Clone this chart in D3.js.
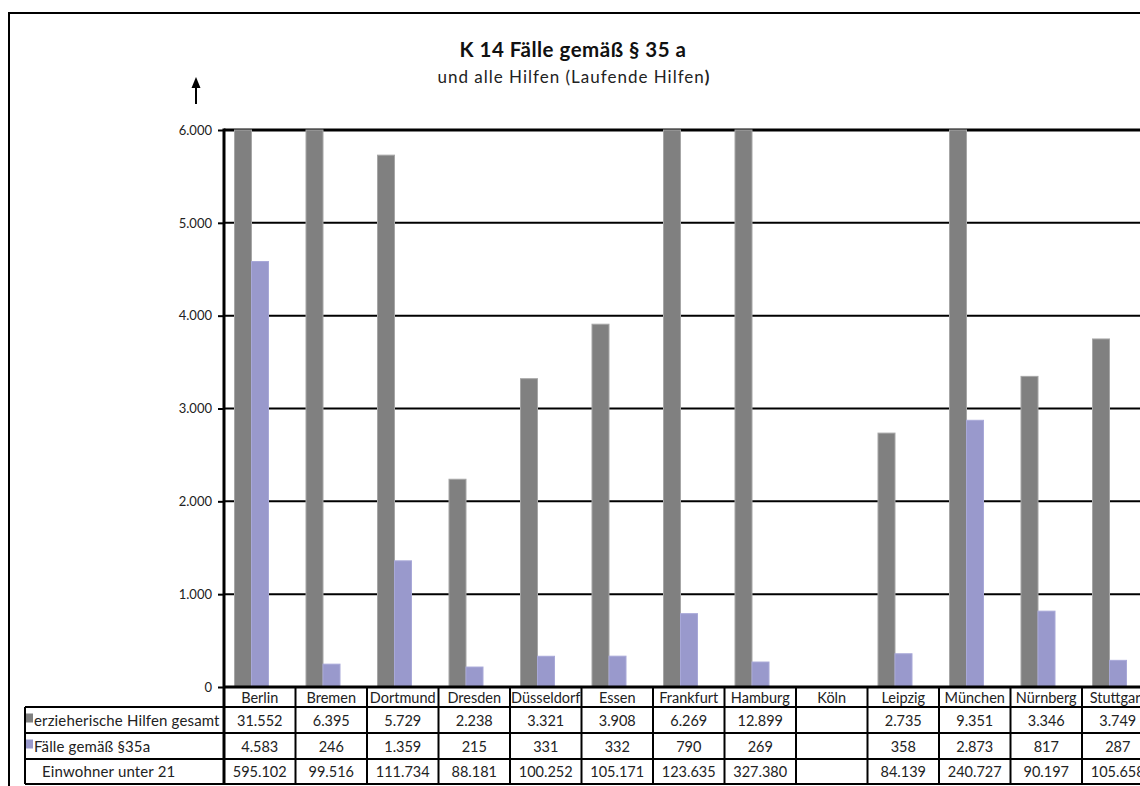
<!DOCTYPE html>
<html>
<head>
<meta charset="utf-8">
<script src="https://cdn.jsdelivr.net/npm/d3@7"></script>
<style>
  html, body { margin: 0; padding: 0; background: #fff; }
  svg { display: block; font-family: "Lato", "DejaVu Sans", sans-serif; }
</style>
</head>
<body>
<svg id="chart" width="1140" height="786"></svg>
<script>
// Cities (categories)
const cities = ["Berlin", "Bremen", "Dortmund", "Dresden", "Düsseldorf", "Essen",
  "Frankfurt", "Hamburg", "Köln", "Leipzig", "München", "Nürnberg", "Stuttgart"];

// Series values (null = no data)
const hilfenGesamt = [31552, 6395, 5729, 2238, 3321, 3908, 6269, 12899, null, 2735, 9351, 3346, 3749];
const faelle35a    = [4583, 246, 1359, 215, 331, 332, 790, 269, null, 358, 2873, 817, 287];
const einwohner    = [595102, 99516, 111734, 88181, 100252, 105171, 123635, 327380, null, 84139, 240727, 90197, 105658];

const seriesNames = ["erzieherische Hilfen gesamt", "Fälle gemäß §35a", "Einwohner unter 21"];
const seriesColors = ["#808080", "#9999cc", null];

const yTicks = [0, 1000, 2000, 3000, 4000, 5000, 6000];

const title = "K 14 Fälle gemäß § 35 a";
const subtitle = "und alle Hilfen (Laufende Hilfen";

// German number format
const de = d3.formatLocale({ decimal: ",", thousands: ".", grouping: [3], currency: ["", " €"] });
const fmt = de.format(",d");

const svg = d3.select("#chart");

// Layout
const plotLeft = 224, plotTop = 130, plotBottom = 687;
const colW = 71.5;
const rowY = [687, 707, 733, 759, 784];
const tableLeft = 25;

const x = d3.scaleBand().domain(cities).range([plotLeft, plotLeft + colW * cities.length]).padding(0);
const xs = d3.scaleBand().domain([0, 1]).range([10.5, 44.5]).padding(0);
const y = d3.scaleLinear().domain([0, 6000]).range([plotBottom, plotTop]).clamp(true);

// outer frame
svg.append("rect").attr("x", 9).attr("y", 13).attr("width", 1200).attr("height", 900)
  .attr("fill", "none").attr("stroke", "#000").attr("stroke-width", 2);

// titles
svg.append("text").attr("x", 573).attr("y", 57).attr("text-anchor", "middle")
  .attr("font-size", 20.5).attr("font-weight", "bold").attr("letter-spacing", 0.5)
  .attr("fill", "#111").text(title);
const sub = svg.append("text").attr("x", 574).attr("y", 83).attr("text-anchor", "middle")
  .attr("font-size", 17).attr("letter-spacing", 1).attr("fill", "#222");
sub.append("tspan").text(subtitle);
sub.append("tspan").attr("font-weight", "bold").text(")");

// arrow above the value axis
svg.append("line").attr("x1", 196).attr("x2", 196).attr("y1", 104).attr("y2", 86)
  .attr("stroke", "#000").attr("stroke-width", 2);
svg.append("path").attr("d", "M196,77 L191.5,88 L200.5,88 Z").attr("fill", "#000");

// gridlines
svg.append("g").selectAll("line").data(yTicks.filter(d => d > 0)).join("line")
  .attr("x1", plotLeft).attr("x2", 1140)
  .attr("y1", d => y(d)).attr("y2", d => y(d))
  .attr("stroke", "#000").attr("stroke-width", d => d === 6000 ? 3 : 2);

// y axis
const yAxis = d3.axisLeft(y).tickValues(yTicks).tickFormat(fmt).tickSize(6).tickPadding(6);
const ga = svg.append("g").attr("transform", `translate(${plotLeft},0)`).call(yAxis);
ga.select(".domain").remove();
ga.selectAll(".tick line").attr("stroke", "#000").attr("stroke-width", 2);
ga.selectAll(".tick text").attr("font-size", 13).attr("fill", "#222")
  .attr("font-family", "Lato, sans-serif");

// bars
const barSeries = [hilfenGesamt, faelle35a];
barSeries.forEach((vals, si) => {
  svg.append("g").selectAll("rect")
    .data(cities.map((c, i) => ({ c, v: vals[i] })).filter(d => d.v != null))
    .join("rect")
    .attr("x", d => x(d.c) + xs(si))
    .attr("width", xs.bandwidth())
    .attr("y", d => y(d.v))
    .attr("height", d => y(0) - y(d.v))
    .attr("fill", seriesColors[si])
    .attr("stroke", si === 0 ? "#a6a6a6" : "#a8a8d8")
    .attr("stroke-width", 1);
});

// axis line
svg.append("line").attr("x1", plotLeft).attr("x2", plotLeft).attr("y1", plotTop - 1.5).attr("y2", rowY[4])
  .attr("stroke", "#000").attr("stroke-width", 3);

// data table
const tableRight = x.range()[1];
const tg = svg.append("g").attr("stroke", "#000").attr("stroke-width", 2);
tg.append("line").attr("x1", plotLeft).attr("x2", tableRight).attr("y1", rowY[0]).attr("y2", rowY[0]).attr("stroke-width", 3);
rowY.slice(1).forEach(ry => {
  tg.append("line").attr("x1", tableLeft).attr("x2", tableRight).attr("y1", ry).attr("y2", ry);
});
tg.append("line").attr("x1", tableLeft).attr("x2", tableLeft).attr("y1", rowY[1]).attr("y2", rowY[4]);
cities.forEach(c => {
  const xx = x(c) + colW;
  tg.append("line").attr("x1", xx).attr("x2", xx).attr("y1", rowY[0]).attr("y2", rowY[4]);
});

// category header
svg.append("g").selectAll("text").data(cities).join("text")
  .attr("x", d => x(d) + colW / 2).attr("y", (rowY[0] + rowY[1]) / 2 + 5.5)
  .attr("text-anchor", "middle").attr("font-size", 14.5).attr("fill", "#222").text(d => d);

// values
const tableRows = [hilfenGesamt, faelle35a, einwohner];
tableRows.forEach((vals, ri) => {
  const cy = (rowY[ri + 1] + rowY[ri + 2]) / 2 + 5.5;
  svg.append("g").selectAll("text").data(cities.map((c, i) => ({ c, v: vals[i] })).filter(d => d.v != null))
    .join("text")
    .attr("x", d => x(d.c) + colW / 2).attr("y", cy)
    .attr("text-anchor", "middle").attr("font-size", 14.5).attr("fill", "#222")
    .text(d => fmt(d.v));
  // legend cell
  const lg = svg.append("g");
  if (seriesColors[ri]) {
    lg.append("rect").attr("x", 26).attr("y", cy - 12).attr("width", 7).attr("height", 9)
      .attr("fill", seriesColors[ri]);
  }
  lg.append("text").attr("x", seriesColors[ri] ? 34 : 42).attr("y", cy)
    .attr("font-size", 15).attr("letter-spacing", 0.15).attr("fill", "#222").text(seriesNames[ri]);
});
</script>
</body>
</html>
